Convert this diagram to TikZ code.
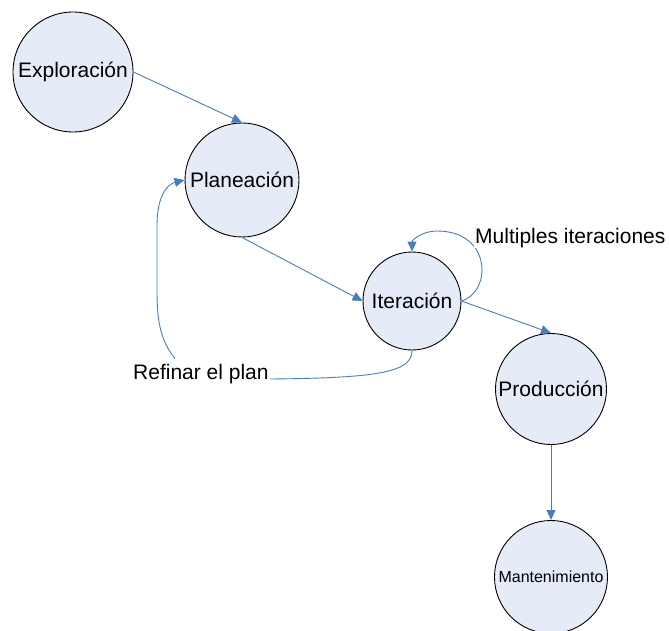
\documentclass[tikz,border=0pt]{standalone}
\usepackage{fontspec}
\setmainfont{Liberation Sans}
\usetikzlibrary{arrows.meta,calc}
\definecolor{linkblue}{RGB}{74,126,187}
\definecolor{phasefill}{RGB}{230,236,247}
\begin{document}
\begin{tikzpicture}[x=1pt,y=-1pt,
  phase/.style={circle,draw=black,line width=0.9pt,fill=phasefill,inner sep=0pt,
    font=\fontsize{21}{24}\selectfont},
  link/.style={draw=linkblue,line width=0.9pt,-{Triangle[length=10pt,width=9pt]}},
  plain/.style={draw=linkblue,line width=0.9pt},
  note/.style={inner sep=1pt,font=\fontsize{21}{24}\selectfont}]
\useasboundingbox (0,0) rectangle (669,631);

% phases of the process
\node[phase,minimum size=120pt] (E) at (73,72) {Exploración};
\node[phase,minimum size=114pt] (P) at (242,180) {Planeación};
\node[phase,minimum size=98pt]  (I) at (412,301) {Iteración};
\node[phase,minimum size=111pt] (D) at (551,389) {Producción};
\node[phase,minimum size=113pt,font=\fontsize{16}{18}\selectfont] (M) at (551,577) {Mantenimiento};

% main sequence
\draw[link] (E.east) -- (P.north);
\draw[link] (P.south) -- (I.west);
\draw[link] (I.east) -- (D.north);
\draw[link] (D.south) -- (M.north);

% repeated iterations
\draw[link] (I.east) .. controls (492,292) and (492,231) .. (437,231)
  .. controls (422,231) and (412,240) .. (I.north);
\node[note,fill=white,anchor=base west] (L) at (474,243) {Multiples iteraciones};

% refining the plan
\node[note,anchor=base west] (R) at (132,379) {Refinar el plan};
\draw[plain] (I.south) .. controls (412,372) and (380,378) .. (R.base east);
\draw[link] ([xshift=43pt,yshift=4pt]R.north west) .. controls (160,340) and (157,320) .. (157,290)
  -- (157,225) .. controls (157,195) and (168,184) .. (P.west);
\end{tikzpicture}
\end{document}
